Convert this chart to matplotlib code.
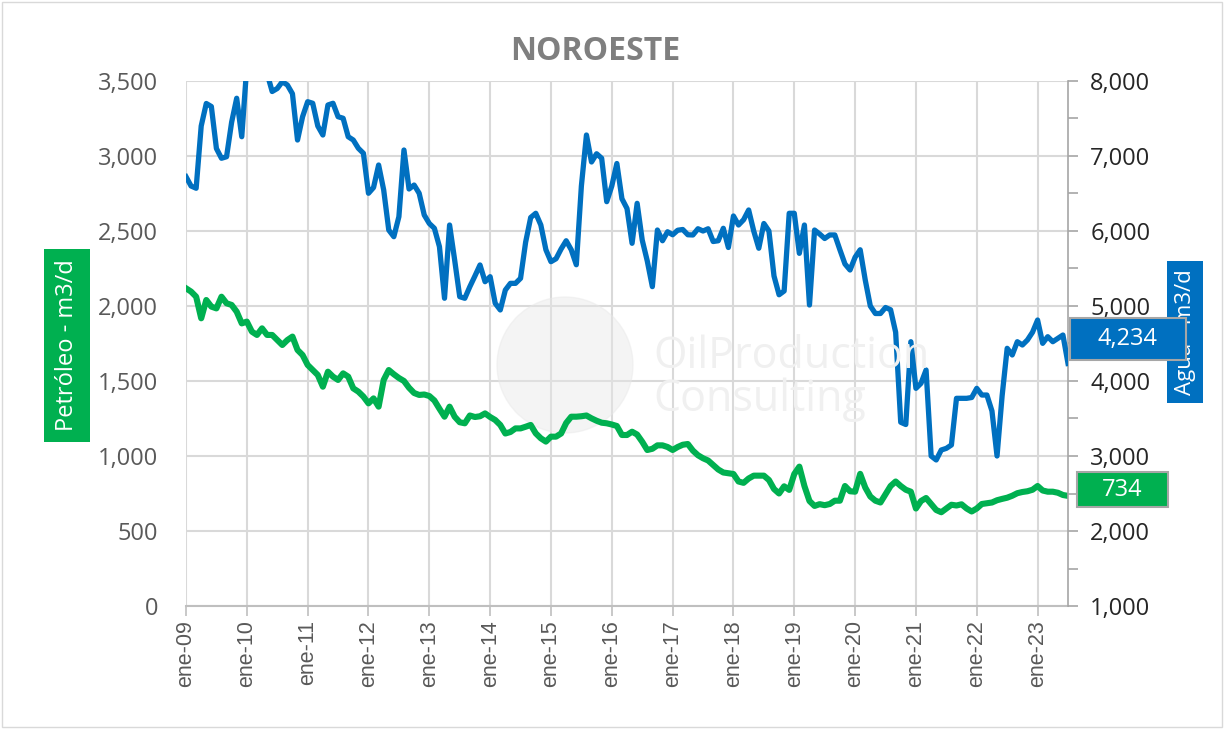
import matplotlib
matplotlib.use("Agg")
import matplotlib.pyplot as plt
from matplotlib.patches import Rectangle, Ellipse

# Monthly data, ene-09 .. jul-23
petroleo = [
    2118, 2096, 2062, 1918, 2040, 1996, 1984, 2062, 2018, 2007, 1962, 1884,  # 2009
    1896, 1829, 1807, 1851, 1807, 1807, 1773, 1740, 1773, 1796, 1707, 1673,  # 2010
    1607, 1573, 1540, 1462, 1562, 1529, 1507, 1551, 1529, 1451, 1429, 1396,  # 2011
    1351, 1384, 1329, 1507, 1573, 1545, 1520, 1500, 1455, 1420, 1407, 1410,  # 2012
    1400, 1370, 1315, 1262, 1329, 1262, 1225, 1218, 1270, 1260, 1265, 1284,  # 2013
    1260, 1240, 1207, 1150, 1160, 1184, 1184, 1195, 1207, 1151, 1118, 1096,  # 2014
    1129, 1129, 1150, 1220, 1262, 1262, 1265, 1270, 1251, 1235, 1222, 1218,  # 2015
    1210, 1200, 1140, 1140, 1162, 1143, 1095, 1040, 1048, 1071, 1071, 1060,  # 2016
    1040, 1060, 1075, 1080, 1036, 1005, 985, 970, 940, 910, 890, 885,  # 2017
    880, 830, 821, 850, 869, 869, 869, 840, 780, 750, 798, 774,  # 2018
    880, 929, 800, 700, 667, 679, 672, 680, 702, 702, 800, 765,  # 2019
    762, 881, 790, 730, 702, 690, 745, 800, 830, 800, 775, 762,  # 2020
    650, 700, 720, 680, 640, 625, 650, 675, 670, 678, 650, 630,  # 2021
    650, 680, 685, 690, 705, 714, 722, 735, 752, 760, 765, 775,  # 2022
    800, 770, 762, 762, 755, 740, 734,  # 2023
]

agua = [
    6724, 6600, 6570, 7400, 7700, 7660, 7100, 6970, 6990, 7450, 7770, 7257,  # 2009
    8200, 8500, 8600, 8400, 8100, 7860, 7900, 7990, 7947, 7830, 7213, 7524,  # 2010
    7724, 7703, 7400, 7280, 7680, 7703, 7524, 7503, 7257, 7213, 7103, 7036,  # 2011
    6503, 6580, 6880, 6547, 6013, 5924, 6191, 7080, 6560, 6613, 6503, 6213,  # 2012
    6100, 6036, 5791, 5103, 6080, 5613, 5124, 5103, 5258, 5400, 5547, 5324,  # 2013
    5391, 5036, 4947, 5213, 5302, 5302, 5369, 5850, 6180, 6236, 6080, 5750,  # 2014
    5591, 5630, 5760, 5870, 5750, 5550, 6600, 7280, 6920, 7030, 6970, 6391,  # 2015
    6600, 6900, 6430, 6300, 5836, 6369, 5880, 5600, 5258, 6013, 5870, 5990,  # 2016
    5950, 6010, 6020, 5950, 5947, 6030, 6000, 6030, 5860, 5870, 6036, 5780,  # 2017
    6200, 6080, 6150, 6280, 6000, 5770, 6100, 6000, 5400, 5150, 5200, 6236,  # 2018
    6236, 5702, 6080, 5013, 6013, 5960, 5900, 5947, 5947, 5750, 5560, 5480,  # 2019
    5650, 5750, 5347, 5000, 4900, 4900, 4980, 4950, 4650, 3450, 3420, 4524,  # 2020
    3902, 3969, 4147, 3000, 2947, 3080, 3102, 3147, 3769, 3769, 3769, 3780,  # 2021
    3902, 3813, 3813, 3600, 3000, 3800, 4436, 4347, 4524, 4480, 4547, 4650,  # 2022
    4813, 4502, 4591, 4524, 4569, 4613, 4234,  # 2023
]

year_labels = ["ene-%02d" % y for y in range(9, 24)]
months = list(range(len(petroleo)))

GREEN = "#00b050"
BLUE = "#0070c0"
plt.rcParams["font.family"] = ["Open Sans", "DejaVu Sans"]

fig = plt.figure(figsize=(12.29, 7.30), dpi=100)
ax = fig.add_axes([186 / 1229, 1 - 606 / 730, (1068 - 186) / 1229, (606 - 81) / 730])
ax2 = ax.twinx()

# watermark
ax.add_patch(Ellipse((565 / 1229, 1 - 365 / 730), 136 / 1229, 136 / 730,
                     transform=fig.transFigure, color="#e8e8e8", alpha=0.45, zorder=1))
fig.text(653 / 1229, 1 - 357 / 730, "OilProduction", fontsize=31, color="#f0f0f0",
         va="center", ha="left", zorder=1)
fig.text(653 / 1229, 1 - 400 / 730, "Consulting", fontsize=31, color="#f0f0f0",
         va="center", ha="left", zorder=1)

ax.plot(months, petroleo, color=GREEN, lw=4.4, solid_joinstyle="round", zorder=3)
ax2.plot(months, agua, color=BLUE, lw=3.8, solid_joinstyle="round", zorder=3)

ax.set_xlim(0, len(months) - 1)
ax.set_ylim(0, 3500)
ax2.set_ylim(1000, 8000)
ax.set_xticks(range(0, len(months), 12))
ax.set_xticklabels(year_labels, rotation=90, fontsize=15.5, color="#595959",
                   fontfamily="Liberation Sans")
ax.set_yticks(range(0, 3501, 500))
ax.set_yticklabels(["{:,}".format(v) for v in range(0, 3501, 500)], fontsize=17, color="#595959")
ax2.set_yticks(range(1000, 8001, 1000))
ax2.set_yticks(range(1500, 8000, 1000), minor=True)
ax2.set_yticklabels(["{:,}".format(v) for v in range(1000, 8001, 1000)], fontsize=17, color="#262626")

ax.grid(True, color="#d9d9d9", lw=1.5)
ax.set_axisbelow(True)
for s in ["top", "left", "right"]:
    ax.spines[s].set_visible(False)
    ax2.spines[s].set_visible(False if s != "right" else True)
ax.spines["bottom"].set_color("#bfbfbf")
ax.spines["bottom"].set_linewidth(1.5)
ax2.spines["bottom"].set_visible(False)
ax2.spines["right"].set_color("#a6a6a6")
ax2.spines["right"].set_linewidth(1.2)
ax.tick_params(axis="y", length=0, pad=20)
ax.tick_params(axis="x", length=7, width=1.2, color="#bfbfbf", pad=3)
ax2.tick_params(axis="y", which="both", length=7, width=1.2, color="#a6a6a6", pad=9)

fig.text(595 / 1229, 1 - 52 / 730, "NOROESTE", fontsize=23, fontweight="bold",
         color="#7f7f7f", ha="center", va="center")

# axis titles in coloured boxes
fig.text(67 / 1229, 1 - 345 / 730, "Petróleo - m3/d", rotation=90, fontsize=17,
         color="white", ha="center", va="center",
         bbox=dict(boxstyle="square,pad=0.45", fc=GREEN, ec="none"))
fig.text(1185 / 1229, 1 - 332 / 730, "Agua - m3/d", rotation=90, fontsize=16,
         color="white", ha="center", va="center", zorder=4,
         bbox=dict(boxstyle="square,pad=0.35", fc=BLUE, ec="none"))

# last value labels
fig.text(1128 / 1229, 1 - 339 / 730, "{:,}".format(agua[-1]), fontsize=17, color="white",
         ha="center", va="center", zorder=6)
fig.add_artist(Rectangle((1070 / 1229, 1 - 360 / 730), 116 / 1229, 42 / 730,
                         transform=fig.transFigure, fc=BLUE, ec="#a6a6a6", lw=1.5, zorder=5))
fig.text(1122 / 1229, 1 - 490 / 730, "{:,}".format(petroleo[-1]), fontsize=17, color="white",
         ha="center", va="center", zorder=6)
fig.add_artist(Rectangle((1077 / 1229, 1 - 507 / 730), 91 / 1229, 35 / 730,
                         transform=fig.transFigure, fc=GREEN, ec="#a6a6a6", lw=1.5, zorder=5))

# chart border
fig.add_artist(Rectangle((2 / 1229, 3 / 730), 1220 / 1229, 725 / 730, transform=fig.transFigure,
                         fill=False, ec="#d9d9d9", lw=1.0))

fig.savefig("out.png", dpi=100)
